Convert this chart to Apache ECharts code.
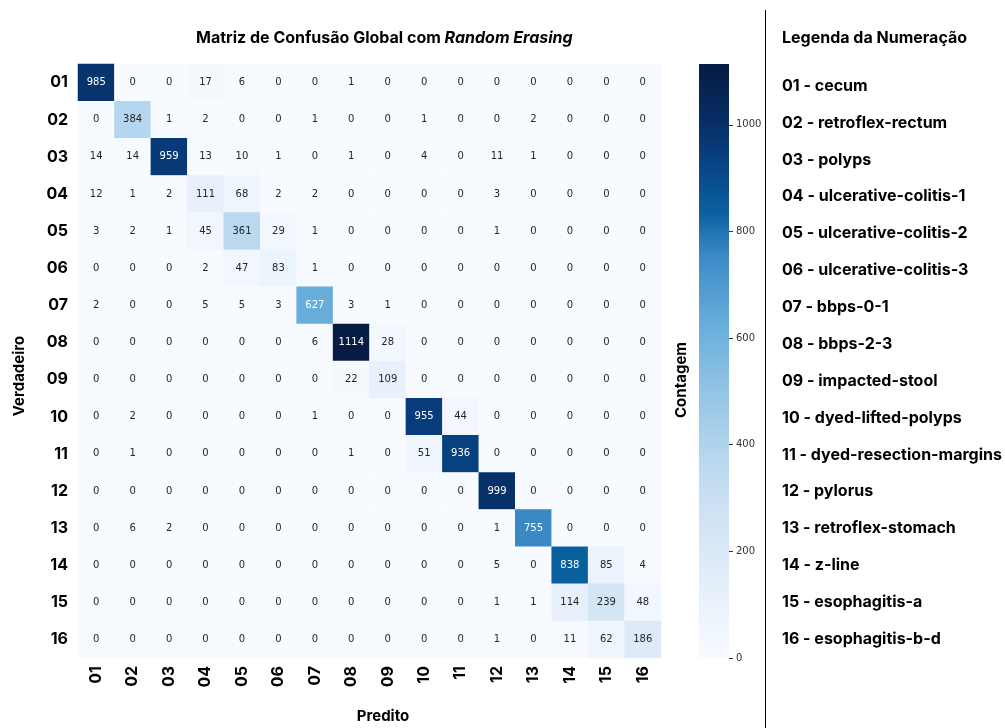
<!DOCTYPE html>
<html>
<head>
<meta charset="utf-8">
<script src="https://cdn.jsdelivr.net/npm/echarts@6/dist/echarts.min.js"></script>
<style>
  html, body { margin: 0; padding: 0; background: #fff; }
  #chart { width: 1005px; height: 728px; }
</style>
</head>
<body>
<div id="chart"></div>
<script>
// Class codes shown on both axes
const classCodes = ['01','02','03','04','05','06','07','08','09','10','11','12','13','14','15','16'];

// Class names for the numbering legend
const classNames = [
  'cecum', 'retroflex-rectum', 'polyps', 'ulcerative-colitis-1',
  'ulcerative-colitis-2', 'ulcerative-colitis-3', 'bbps-0-1', 'bbps-2-3',
  'impacted-stool', 'dyed-lifted-polyps', 'dyed-resection-margins', 'pylorus',
  'retroflex-stomach', 'z-line', 'esophagitis-a', 'esophagitis-b-d'
];

// Confusion matrix: rows = true class, columns = predicted class
const confusion = [
  [985,   0,   0,  17,   6,   0,   0,    1,   0,   0,   0,   0,   0,   0,   0,   0],
  [  0, 384,   1,   2,   0,   0,   1,    0,   0,   1,   0,   0,   2,   0,   0,   0],
  [ 14,  14, 959,  13,  10,   1,   0,    1,   0,   4,   0,  11,   1,   0,   0,   0],
  [ 12,   1,   2, 111,  68,   2,   2,    0,   0,   0,   0,   3,   0,   0,   0,   0],
  [  3,   2,   1,  45, 361,  29,   1,    0,   0,   0,   0,   1,   0,   0,   0,   0],
  [  0,   0,   0,   2,  47,  83,   1,    0,   0,   0,   0,   0,   0,   0,   0,   0],
  [  2,   0,   0,   5,   5,   3, 627,    3,   1,   0,   0,   0,   0,   0,   0,   0],
  [  0,   0,   0,   0,   0,   0,   6, 1114,  28,   0,   0,   0,   0,   0,   0,   0],
  [  0,   0,   0,   0,   0,   0,   0,   22, 109,   0,   0,   0,   0,   0,   0,   0],
  [  0,   2,   0,   0,   0,   0,   1,    0,   0, 955,  44,   0,   0,   0,   0,   0],
  [  0,   1,   0,   0,   0,   0,   0,    1,   0,  51, 936,   0,   0,   0,   0,   0],
  [  0,   0,   0,   0,   0,   0,   0,    0,   0,   0,   0, 999,   0,   0,   0,   0],
  [  0,   6,   2,   0,   0,   0,   0,    0,   0,   0,   0,   1, 755,   0,   0,   0],
  [  0,   0,   0,   0,   0,   0,   0,    0,   0,   0,   0,   5,   0, 838,  85,   4],
  [  0,   0,   0,   0,   0,   0,   0,    0,   0,   0,   0,   1,   1, 114, 239,  48],
  [  0,   0,   0,   0,   0,   0,   0,    0,   0,   0,   0,   1,   0,  11,  62, 186]
];

// Colour bar tick values
const colorbarTicks = [0, 200, 400, 600, 800, 1000];

// Blue ramp: stop positions (fraction of the colour range) and colours
const rampStops  = [0, 0.10, 0.18, 0.27, 0.345, 0.45, 0.56, 0.68, 0.75, 0.86, 0.90, 1.0];
const rampColors = ['#f7fbff','#e8f1fb','#dae9f7','#c9e0f2','#b4d6ee','#92c4e5',
                    '#69aedb','#3a88c4','#0a60a0','#083a78','#072f66','#061c43'];

const maxVal = Math.max(...confusion.flat());

function hexToRgb(h) {
  return [parseInt(h.slice(1,3),16), parseInt(h.slice(3,5),16), parseInt(h.slice(5,7),16)];
}
function rampAt(t) {
  t = Math.min(1, Math.max(0, t));
  let i = 0;
  while (i < rampStops.length - 2 && t > rampStops[i + 1]) i++;
  const f = (t - rampStops[i]) / (rampStops[i + 1] - rampStops[i]);
  const a = hexToRgb(rampColors[i]), b = hexToRgb(rampColors[i + 1]);
  return a.map((v, k) => Math.round(v + (b[k] - v) * f));
}
function toCss(rgb) { return 'rgb(' + rgb.join(',') + ')'; }
function luminance(rgb) {
  const c = rgb.map(v => {
    v /= 255;
    return v <= 0.03928 ? v / 12.92 : Math.pow((v + 0.055) / 1.055, 2.4);
  });
  return 0.2126 * c[0] + 0.7152 * c[1] + 0.0722 * c[2];
}

// Evenly spaced palette for the visual map and the colour bar
const N = 100;
const palette = [];
for (let k = 0; k <= N; k++) palette.push(toCss(rampAt(k / N)));

// Heatmap cells with annotation colour chosen for contrast
const cells = [];
confusion.forEach((row, r) => {
  row.forEach((v, c) => {
    const lum = luminance(rampAt(v / maxVal));
    cells.push({
      value: [c, r, v],
      label: { color: lum > 0.408 ? '#262626' : '#ffffff' }
    });
  });
});

const chart = echarts.init(document.getElementById('chart'), null, { renderer: 'canvas' });

const boldFont = 'Inter, "Liberation Sans", sans-serif';

const legendGraphics = [
  {
    type: 'text', x: 782, y: 38,
    style: { text: 'Legenda da Numeração', font: 'bold 16px ' + boldFont, fill: '#000', verticalAlign: 'middle' }
  }
];
classNames.forEach((name, i) => {
  legendGraphics.push({
    type: 'text', x: 782, y: 86 + i * 36.87,
    style: { text: classCodes[i] + ' - ' + name, font: 'bold 16px ' + boldFont, fill: '#000', verticalAlign: 'middle' }
  });
});

const option = {
  backgroundColor: '#ffffff',
  animation: false,
  grid: [
    { left: 78, top: 64, width: 583, height: 594 },
    { left: 699, top: 64, width: 30, height: 594 }
  ],
  xAxis: [
    {
      type: 'category', gridIndex: 0, data: classCodes, position: 'bottom',
      axisLine: { show: false }, axisTick: { show: false }, splitArea: { show: false },
      axisLabel: {
        rotate: 90, margin: 8, fontSize: 16, fontWeight: 'bold',
        fontFamily: boldFont, color: '#000'
      }
    },
    {
      type: 'category', gridIndex: 1, data: [''], show: false
    }
  ],
  yAxis: [
    {
      type: 'category', gridIndex: 0, data: classCodes, inverse: true,
      axisLine: { show: false }, axisTick: { show: false }, splitArea: { show: false },
      axisLabel: {
        margin: 10, fontSize: 16, fontWeight: 'bold',
        fontFamily: boldFont, color: '#000'
      }
    },
    {
      type: 'value', gridIndex: 1, min: 0, max: maxVal, position: 'right',
      axisLine: { show: false }, splitLine: { show: false },
      axisTick: { show: true, length: 4, lineStyle: { color: '#333' }, customValues: colorbarTicks },
      axisLabel: {
        margin: 7, fontSize: 10, fontFamily: '"DejaVu Sans", sans-serif', color: '#333',
        customValues: colorbarTicks, formatter: v => String(v)
      }
    }
  ],
  visualMap: {
    type: 'continuous', show: false, min: 0, max: maxVal, seriesIndex: 0,
    inRange: { color: palette }
  },
  series: [
    {
      type: 'heatmap', xAxisIndex: 0, yAxisIndex: 0, data: cells,
      label: {
        show: true, fontSize: 10, fontFamily: '"DejaVu Sans", sans-serif',
        formatter: p => String(p.value[2])
      },
      emphasis: { disabled: true }
    },
    {
      type: 'bar', xAxisIndex: 1, yAxisIndex: 1, data: [maxVal], barWidth: '100%',
      itemStyle: {
        color: new echarts.graphic.LinearGradient(0, 1, 0, 0,
          palette.map((c, i) => ({ offset: i / N, color: c })))
      },
      silent: true
    }
  ],
  graphic: [
    {
      type: 'text', x: 196, y: 38,
      style: {
        text: '{n|Matriz de Confusão Global com }{i|Random Erasing}',
        verticalAlign: 'middle',
        rich: {
          n: { fontFamily: boldFont, fontWeight: 'bold', fontSize: 16, fill: '#000' },
          i: { fontFamily: boldFont, fontWeight: 'bold', fontStyle: 'italic', fontSize: 16, fill: '#000' }
        }
      }
    },
    {
      type: 'text', x: 19, y: 376, rotation: Math.PI / 2,
      style: { text: 'Verdadeiro', font: 'bold 15px ' + boldFont, fill: '#000', align: 'center', verticalAlign: 'middle' }
    },
    {
      type: 'text', x: 383, y: 716,
      style: { text: 'Predito', font: 'bold 15px ' + boldFont, fill: '#000', align: 'center', verticalAlign: 'middle' }
    },
    {
      type: 'text', x: 681, y: 380, rotation: Math.PI / 2,
      style: { text: 'Contagem', font: 'bold 15px ' + boldFont, fill: '#000', align: 'center', verticalAlign: 'middle' }
    },
    {
      type: 'line', shape: { x1: 765.5, y1: 10, x2: 765.5, y2: 728 },
      style: { stroke: '#000', lineWidth: 1 }
    },
    ...legendGraphics
  ]
};

chart.setOption(option);
</script>
</body>
</html>
